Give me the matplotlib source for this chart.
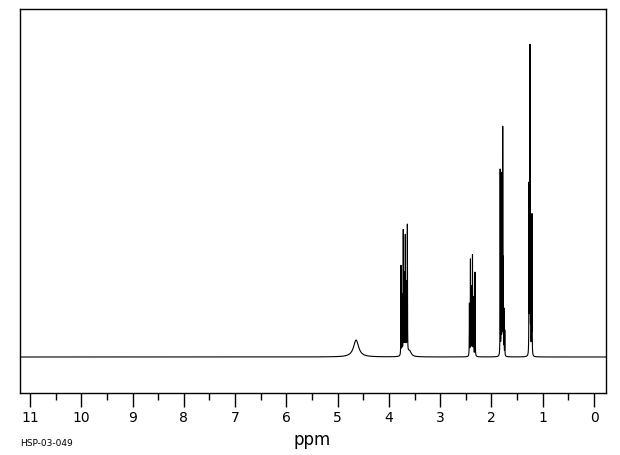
import matplotlib
matplotlib.use('Agg')
import matplotlib.pyplot as plt
import numpy as np

# line list: shift (ppm), height (px above baseline), half width (ppm)
shifts = [4.64,
          3.764, 3.742, 3.72, 3.70, 3.68, 3.66, 3.64, 3.60,
          2.43, 2.41, 2.39, 2.37, 2.35, 2.32,
          1.83, 1.81, 1.795, 1.78, 1.77, 1.755, 1.74,
          1.268, 1.258, 1.248, 1.235, 1.22, 1.209]
heights = [17,
           90, 60, 124, 80, 118, 70, 128, 6,
           52, 96, 68, 100, 58, 84,
           186, 180, 120, 224, 90, 45, 25,
           168, 105, 305, 85, 65, 140]
widths = [0.06,
          0.0025, 0.0025, 0.0025, 0.0025, 0.0025, 0.0025, 0.0025, 0.04,
          0.0025, 0.0025, 0.0025, 0.0025, 0.0025, 0.0025,
          0.002, 0.002, 0.002, 0.002, 0.002, 0.002, 0.002,
          0.002, 0.002, 0.002, 0.002, 0.002, 0.002]

major_ticks = list(range(0, 12))
tick_labels = [str(t) for t in major_ticks]

ppm = np.linspace(11.2, -0.24, 40000)
signal = np.zeros_like(ppm)
for s, h, w in zip(shifts, heights, widths):
    signal += h * w**2 / ((ppm - s)**2 + w**2)

fig = plt.figure(figsize=(6.2, 4.55), dpi=100)
ax = fig.add_axes([20/620, 62/455, 586/620, 384/455])
ax.plot(ppm, signal, color='black', lw=0.8)

ax.set_xlim(11.195, -0.234)
ax.set_ylim(-36, 348)
ax.set_yticks([])
ax.set_xticks(major_ticks)
ax.set_xticklabels(tick_labels, fontsize=10)
ax.set_xticks(np.arange(0.5, 11, 1), minor=True)
ax.tick_params(axis='x', which='major', direction='out', length=10, width=1, pad=3)
ax.tick_params(axis='x', which='minor', direction='out', length=5, width=1)
for sp in ax.spines.values():
    sp.set_linewidth(1)

fig.text(312/620, 1 - 440/455, 'ppm', ha='center', va='center', fontsize=12)
fig.text(20/620, 1 - 443/455, 'HSP-03-049', ha='left', va='center', fontsize=6.5)

plt.savefig('out.png', dpi=100)
